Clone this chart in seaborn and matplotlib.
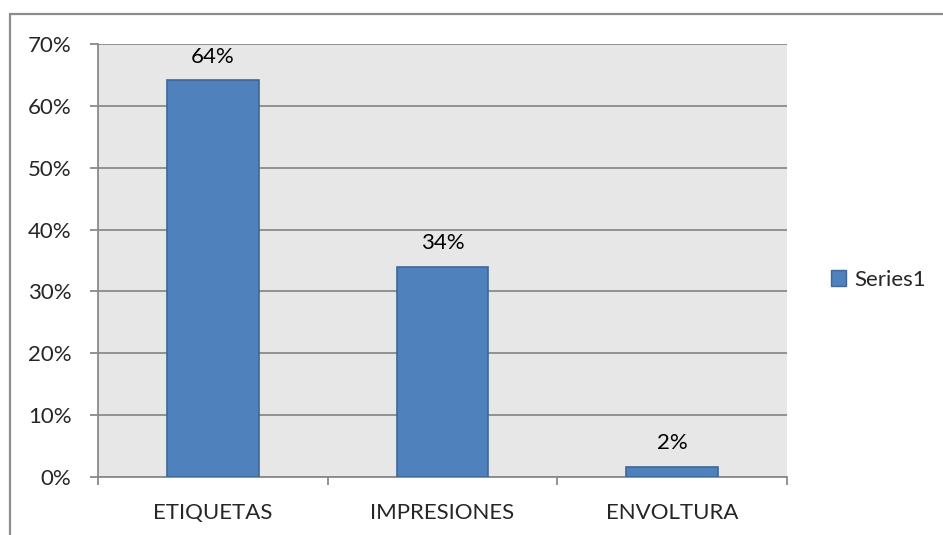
import matplotlib
matplotlib.use("Agg")
import matplotlib.pyplot as plt
from matplotlib.lines import Line2D
from matplotlib.patches import Patch
from matplotlib.ticker import PercentFormatter
import seaborn as sns
import pandas as pd

categories = ["ETIQUETAS", "IMPRESIONES", "ENVOLTURA"]
values = [0.641, 0.34, 0.016]
series_name = "Series1"
y_ticks = [0.0, 0.1, 0.2, 0.3, 0.4, 0.5, 0.6, 0.7]

sns.set_style("white")
plt.rcParams["font.family"] = ["Lato", "DejaVu Sans"]

W, H = 943, 535
FS = 16
fig = plt.figure(figsize=(W / 100, H / 100), dpi=100)
fig.patch.set_facecolor("white")

# outer chart frame (top and left edges visible)
frame_c = "#8c8c8c"
fig.add_artist(Line2D([10 / W, 1.0], [1 - 14 / H, 1 - 14 / H], color=frame_c, lw=1.6, transform=fig.transFigure))
fig.add_artist(Line2D([10 / W, 10 / W], [0.0, 1 - 14 / H], color=frame_c, lw=1.6, transform=fig.transFigure))

ax = fig.add_axes([98 / W, (H - 477) / H, (787 - 98) / W, (477 - 44) / H])
ax.set_facecolor("#e7e7e7")

df = pd.DataFrame({"category": categories, "value": values})
bar_c = "#4f81bd"
sns.barplot(data=df, x="category", y="value", color=bar_c, width=0.4,
            edgecolor="#3f6797", linewidth=1.2, saturation=1, ax=ax, zorder=3)

ax.set_ylim(0, 0.7)
ax.set_xlim(-0.5, len(categories) - 0.5)
ax.set_yticks(y_ticks)
ax.yaxis.set_major_formatter(PercentFormatter(1.0, decimals=0))
ax.grid(axis="y", color="#8a8a8a", lw=1.3, zorder=1)
ax.set_axisbelow(True)

for s in ["top", "right"]:
    ax.spines[s].set_visible(False)
for s in ["left", "bottom"]:
    ax.spines[s].set_color("#8a8a8a")
    ax.spines[s].set_linewidth(1.3)

# x ticks sit at category boundaries, labels at the centres
ax.set_xticks([i - 0.5 for i in range(len(categories) + 1)])
ax.set_xticklabels([])
ax.set_xticks(range(len(categories)), minor=True)
ax.set_xticklabels(categories, minor=True)
ax.tick_params(axis="x", which="major", direction="out", length=6, width=1.3, color="#8a8a8a", bottom=True)
ax.tick_params(axis="x", which="minor", length=0, pad=19, labelsize=FS)
ax.tick_params(axis="y", direction="out", length=6, width=1.3, color="#8a8a8a", left=True, pad=13, labelsize=FS)
ax.set_xlabel("")
ax.set_ylabel("")

for i, v in enumerate(values):
    ax.annotate(f"{v:.0%}", (i, v), xytext=(0, 10), textcoords="offset points",
                ha="center", va="bottom", fontsize=FS, color="black")

handle = Patch(facecolor=bar_c, edgecolor="#3f6797", linewidth=1.0)
fig.legend([handle], [series_name], loc="center left", bbox_to_anchor=(822 / W, 1 - 280 / H),
           frameon=False, fontsize=FS, handlelength=0.7, handleheight=0.7, handletextpad=0.35,
           borderaxespad=0)

fig.savefig("out.png", dpi=100, facecolor="white")
